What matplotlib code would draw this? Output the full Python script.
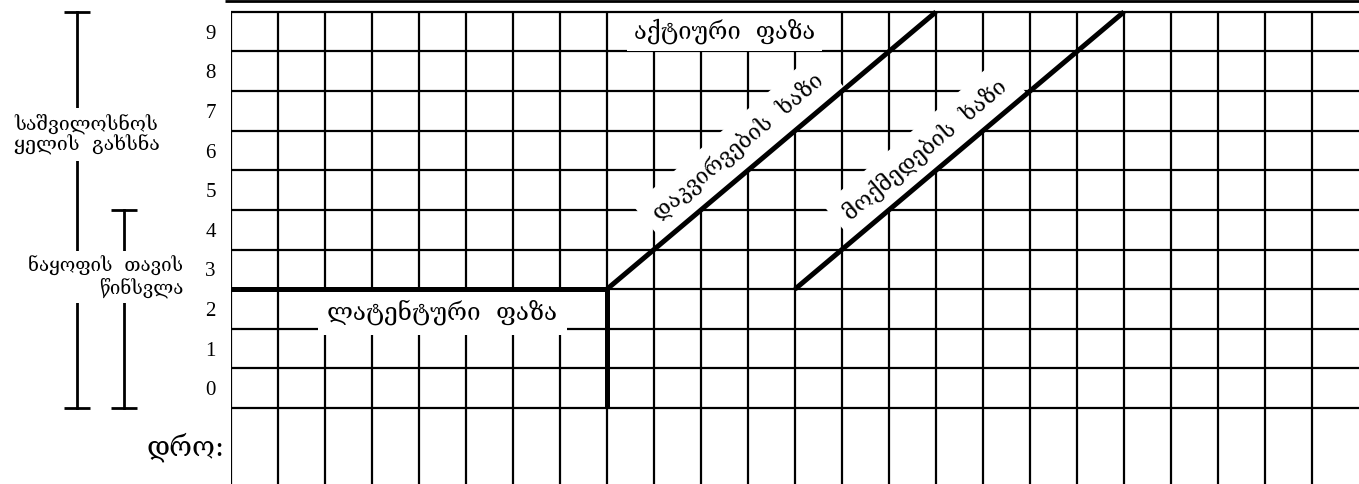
import matplotlib
matplotlib.use('Agg')
import matplotlib.pyplot as plt

# ---- data ----
hours = list(range(0, 25))
dilation_ticks = list(range(0, 10))
dilation_labels = [str(v) for v in dilation_ticks]
grid_rows = list(range(0, 11))
latent_x = [0, 8, 8]
latent_y = [3, 3, 0]
alert_x = [8, 15]
alert_y = [3, 10]
action_x = [12, 19]
action_y = [3, 10]
cervix_range = [0, 10]
descent_range = [0, 5]

GEO = ['DejaVu Serif', 'DejaVu Sans']
NUM = ['Liberation Serif', 'DejaVu Serif']

W, H = 1359, 484
fig = plt.figure(figsize=(W / 100, H / 100), dpi=100)
left = 231 / W
ax = fig.add_axes([left, 0, 1 - left, 1])
YMIN, YMAX = -1.92, 10.30
ax.set_xlim(0, 24)
ax.set_ylim(YMIN, YMAX)
for s in ax.spines.values():
    s.set_visible(False)
ax.set_xticks([])
ax.set_yticks([v + 0.5 for v in dilation_ticks])
ax.set_yticklabels(dilation_labels, fontfamily=NUM, fontsize=15)
ax.tick_params(axis='y', length=0, pad=11)

grid_lw = 1.6
for h in hours[:-1]:
    ax.plot([h, h], [YMIN - 1, 10], color='black', lw=grid_lw, zorder=1,
            solid_capstyle='butt')
for v in grid_rows:
    ax.plot([0, 24], [v, v], color='black', lw=grid_lw,
            zorder=3 if v == grid_rows[-1] else 1, solid_capstyle='butt')

# top rule
ax.plot([-0.13, 24], [10.27, 10.27], color='black', lw=2.0, clip_on=False,
        solid_capstyle='butt')

thick = 3.6
ax.plot(latent_x, latent_y, color='black', lw=thick, zorder=3,
        solid_joinstyle='miter', solid_capstyle='butt')
ax.plot(alert_x, alert_y, color='black', lw=thick, zorder=3, solid_capstyle='butt')
ax.plot(action_x, action_y, color='black', lw=thick, zorder=3, solid_capstyle='butt')

wbox = dict(facecolor='white', edgecolor='none', pad=5)
wboxl = dict(facecolor='white', edgecolor='none', pad=7)
wboxr = dict(facecolor='white', edgecolor='none', pad=8)
ax.text(10.5, 9.5, 'აქტიური  ფაზა', fontfamily=GEO, fontsize=17,
        ha='center', va='center', bbox=wbox, zorder=2.5)
ax.text(4.5, 2.42, 'ლატენტური  ფაზა', fontfamily=GEO, fontsize=17.5,
        ha='center', va='center', bbox=wboxl, zorder=2.5)
ax.text(alert_x[0] + 2.8, alert_y[0] + 3.6, 'დაკვირვების  ხაზი', fontfamily=GEO,
        fontsize=16, ha='center', va='center', rotation=40,
        rotation_mode='anchor', bbox=wboxr, zorder=2.5)
ax.text(action_x[0] + 2.77, action_y[0] + 3.52, 'მოქმედების  ხაზი', fontfamily=GEO,
        fontsize=16, ha='center', va='center', rotation=40,
        rotation_mode='anchor', bbox=wboxr, zorder=2.5)

# time label
ax.text(-0.13, -0.98, 'დრო:', fontfamily=GEO, fontsize=20, ha='right',
        va='center', clip_on=False)

# brackets on the left
px = 47.0
bx1 = (77 - 231) / px
bx2 = (124 - 231) / px
cap = 13 / px
for bx, rng in ((bx1, cervix_range), (bx2, descent_range)):
    ax.plot([bx, bx], rng, color='black', lw=2.0, clip_on=False, zorder=1)
    for yv in rng:
        ax.plot([bx - cap, bx + cap], [yv, yv], color='black', lw=2.0,
                clip_on=False, zorder=1, solid_capstyle='butt')

wbox2 = dict(facecolor='white', edgecolor='none', pad=4)
ax.text(bx1 + 0.2, 6.9, 'საშვილოსნოს\nყელის  გახსნა', fontfamily=GEO,
        fontsize=14, ha='center', va='center', multialignment='center',
        linespacing=1.05, bbox=wbox2, clip_on=False, zorder=2)
ax.text((183 - 231) / px, 3.31, 'ნაყოფის  თავის\nწინსვლა', fontfamily=GEO,
        fontsize=13.5, ha='right', va='center', multialignment='right',
        linespacing=1.05, bbox=wbox2, clip_on=False, zorder=2)

fig.savefig('out.png', dpi=100)
